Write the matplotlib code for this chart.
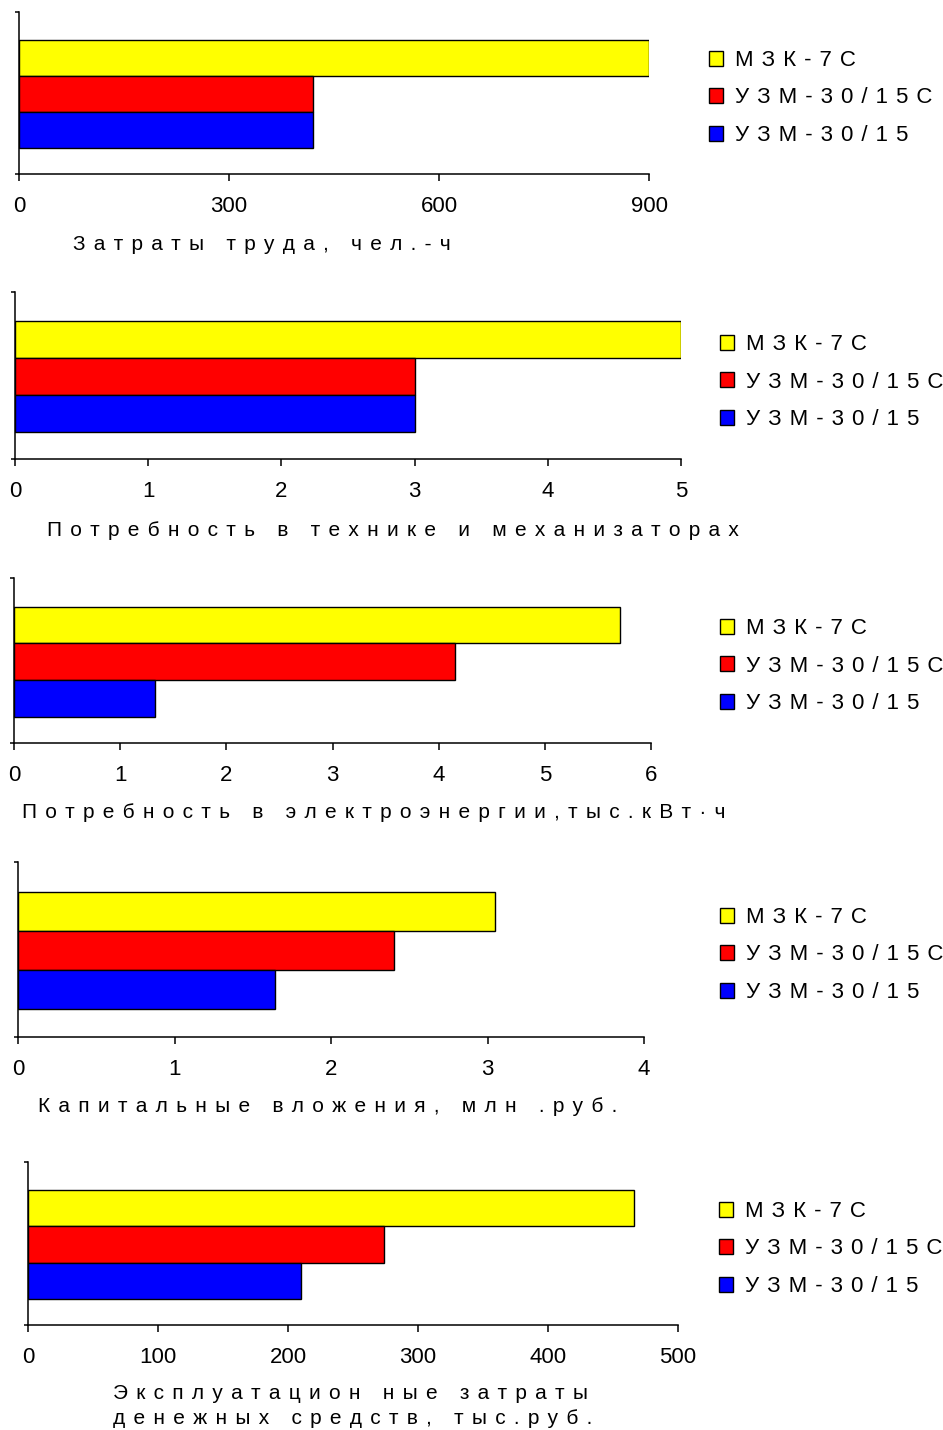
import matplotlib
matplotlib.use("Agg")
import matplotlib.pyplot as plt

plt.rcParams["font.family"] = ["Liberation Sans", "DejaVu Sans"]

# series order: top to bottom in each panel
series = ["МЗК-7С", "УЗМ-30/15С", "УЗМ-30/15"]
colors = ["#FFFF00", "#FF0000", "#0000FF"]

labor = [900, 420, 420]
machines = [5, 3, 3]
energy = [5.71, 4.15, 1.33]
capital = [3.05, 2.40, 1.64]
operating = [466, 274, 210]

labor_ticks = [0, 300, 600, 900]
machines_ticks = [0, 1, 2, 3, 4, 5]
energy_ticks = [0, 1, 2, 3, 4, 5, 6]
capital_ticks = [0, 1, 2, 3, 4]
operating_ticks = [0, 100, 200, 300, 400, 500]

titles = [
    "Затраты труда, чел.-ч",
    "Потребность в технике и механизаторах",
    "Потребность в электроэнергии,тыс.кВт·ч",
    "Капитальные вложения, млн .руб.",
    "Эксплуатацион ные затраты\nденежных средств, тыс.руб.",
]


def spaced(s, gap="\u2009\u2009"):
    # imitate the letter spacing of the original
    return "\n".join(gap.join(line) for line in s.split("\n"))


W, H = 943, 1430
fig = plt.figure(figsize=(W / 100, H / 100), dpi=100)

# (left, top, right, bottom) of each plot area in pixels
boxes = [
    (19, 12, 649, 174),
    (15, 292, 681, 459),
    (14, 578, 651, 743),
    (18, 862, 644, 1037),
    (28, 1162, 678, 1325),
]
# legend anchor (x, y of middle row) and label position (x, y) in pixels
legend_pos = [(709, 98), (720, 382), (720, 666), (720, 955), (719, 1249)]
label_pos = [(73, 244), (47, 530), (22, 813), (38, 1107), (113, 1406)]

panels = [
    (labor, labor_ticks),
    (machines, machines_ticks),
    (energy, energy_ticks),
    (capital, capital_ticks),
    (operating, operating_ticks),
]

for i, (values, ticks) in enumerate(panels):
    l, t, r, b = boxes[i]
    ax = fig.add_axes([l / W, 1 - b / H, (r - l) / W, (b - t) / H])
    ypos = [2, 1, 0]
    for v, y, c, name in zip(values, ypos, colors, series):
        ax.barh(y, v, height=1.0, color=c, edgecolor="black",
                linewidth=1.0, label=spaced(name, " \u200a"))
    ax.set_xlim(ticks[0], ticks[-1])
    ax.set_ylim(-1.22, 3.28)
    ax.set_xticks(ticks)
    ax.set_xticklabels([str(x) for x in ticks], fontsize=16)
    ax.set_yticks([-1.22, 3.28])
    ax.set_yticklabels([])
    ax.tick_params(axis="x", direction="out", length=5, width=1.1, pad=11)
    ax.tick_params(axis="y", direction="out", length=3, width=1.1)
    for side in ["top", "right"]:
        ax.spines[side].set_visible(False)
    for side in ["left", "bottom"]:
        ax.spines[side].set_linewidth(1.1)
        ax.spines[side].set_color("black")

    lx, ly = legend_pos[i]
    ax.legend(loc="center left", bbox_to_anchor=(lx / W, 1 - ly / H),
              bbox_transform=fig.transFigure, frameon=False, fontsize=16,
              borderpad=0, borderaxespad=0, handlelength=0.65,
              handleheight=0.65, handletextpad=0.5, labelspacing=0.74)

    tx, ty = label_pos[i]
    fig.text(tx / W, 1 - ty / H, spaced(titles[i]), fontsize=15,
             ha="left", va="center", linespacing=1.45)

fig.savefig("out.png", dpi=100)
